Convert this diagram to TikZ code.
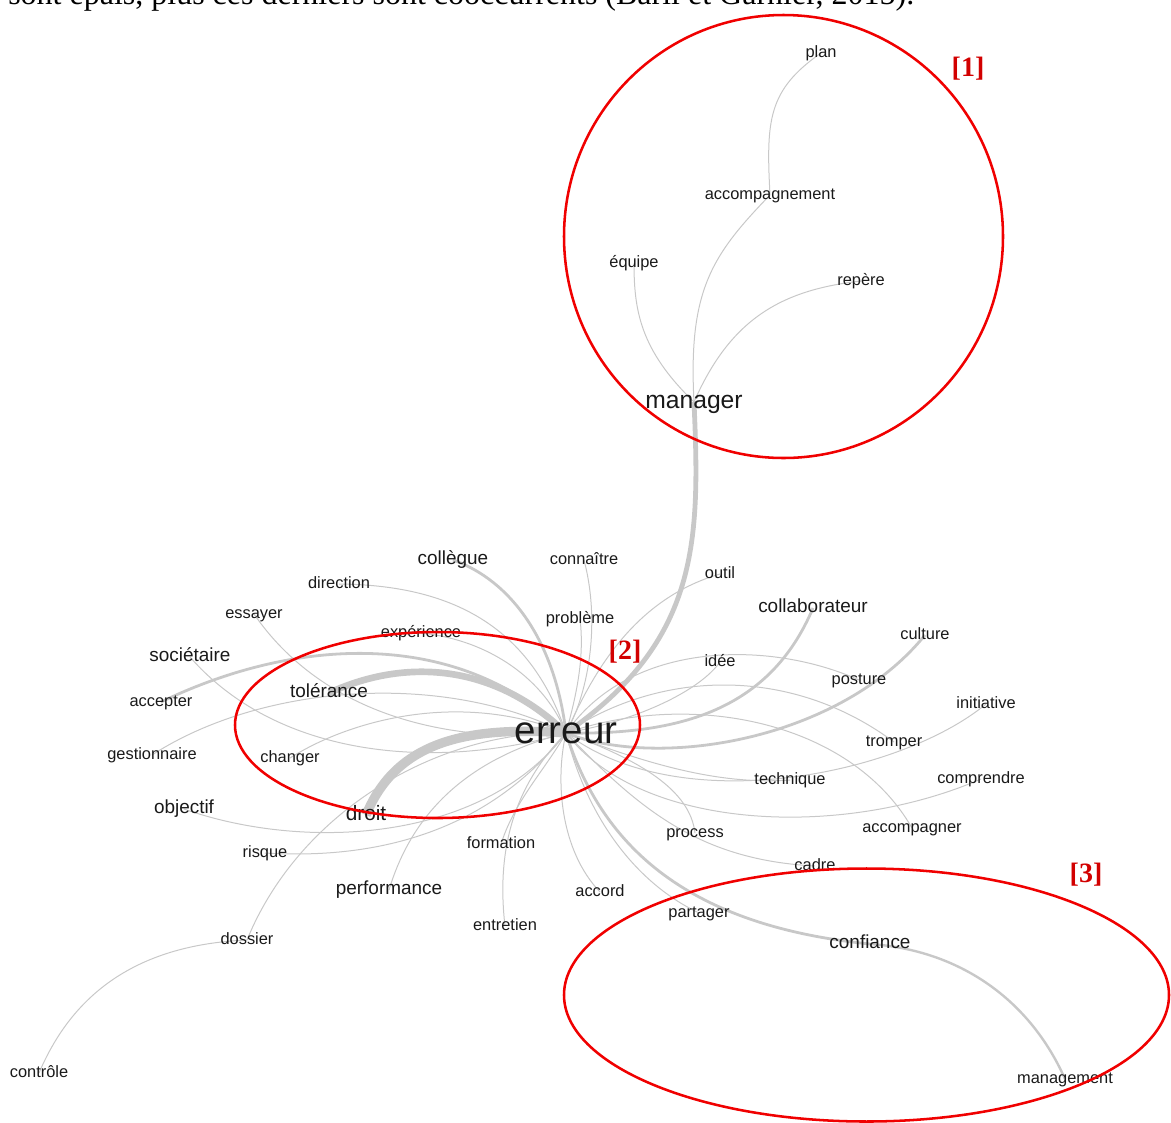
\documentclass[tikz,border=0pt]{standalone}
\usepackage{fontspec}
\setmainfont{Liberation Sans}
\newfontfamily\serifrm{Liberation Serif}
\usetikzlibrary{backgrounds}
\definecolor{lnkgray}{RGB}{200,200,200}
\definecolor{wordink}{RGB}{25,25,25}
\definecolor{zonered}{RGB}{240,0,0}
\definecolor{tagred}{RGB}{210,0,0}
\tikzset{
  wsm/.style={inner sep=0pt, text height=0.72em, text depth=0.2em, text=wordink, node font=\fontsize{12.3}{14}\selectfont},
  wmd/.style={wsm, node font=\fontsize{14.2}{16}\selectfont},
  lnk/.style={draw=lnkgray, line width=0.75pt},
  lnkm/.style={draw=lnkgray, line width=2.1pt},
  zone/.style={draw=zonered, line width=1.9pt},
  tag/.style={inner sep=0pt, text=tagred, node font=\serifrm\bfseries\fontsize{21}{24}\selectfont},
}
\begin{document}
\begin{tikzpicture}[x=0.75pt, y=-0.75pt]
  \useasboundingbox (0,0) rectangle (1171,1122);
  \clip (0,0) rectangle (1171,1122);

  % --- Text line above the graph (cut by the frame) ---
  \node[anchor=base west, inner sep=0pt, font=\serifrm\fontsize{24}{26}\selectfont] (topline) at (8,4.5)
    {sont épais, plus ces derniers sont cooccurrents (Barll et Garnier, 2015).};

  % --- Words ---
  \node[wsm, node font=\fontsize{28.9}{32}\selectfont] (erreur) at (566,733) {erreur};
  \node[wsm, node font=\fontsize{18.5}{21}\selectfont] (manager) at (694,402) {manager};
  \node[wsm, node font=\fontsize{15.6}{18}\selectfont] (droit) at (366,815) {droit};

  \foreach \nm/\x/\y/\txt in {collegue/453/560/collègue, collaborateur/813/608/collaborateur,
      societaire/190/657/sociétaire, tolerance/329/693/tolérance, objectif/184/809/objectif,
      performance/389/890/performance, confiance/870/944/confiance}
    \node[wmd] (\nm) at (\x,\y) {\txt};

  \foreach \nm/\x/\y/\txt in {plan/821/53/plan, accompagnement/770/195/accompagnement,
      equipe/634/263/équipe, repere/861/281/repère, connaitre/584/560/connaître,
      direction/339/584/direction, essayer/254/614/essayer, outil/720/574/outil,
      probleme/580/619/problème, experience/421/633/expérience, culture/925/635/culture,
      idee/720/662/idée, posture/859/680/posture, accepter/161/702/accepter,
      initiative/986/704/initiative, tromper/894/742/tromper, gestionnaire/152/755/gestionnaire,
      changer/290/758/changer, technique/790/780/technique, comprendre/981/779/comprendre,
      accompagner/912/828/accompagner, process/695/833/process, formation/501/844/formation,
      risque/265/853/risque, cadre/815/866/cadre, accord/600/892/accord,
      partager/699/913/partager, entretien/505/926/entretien, dossier/247/940/dossier,
      controle/39/1073/contrôle, management/1065/1079/management}
    \node[wsm] (\nm) at (\x,\y) {\txt};

  % --- Links (under the words) ---
  \begin{scope}[on background layer]
    % thin links to erreur
    \foreach \w/\ax/\ay/\bx/\by in {connaitre/590/690/600/620, probleme/575/700/585/660,
        outil/590/680/630/600, direction/530/625/450/585, experience/545/680/490/640,
        essayer/440/745/320/710, societaire/440/770/280/760, gestionnaire/440/670/260/685,
        changer/460/690/350/720, objectif/480/845/300/850, risque/490/830/380/860,
        dossier/440/730/300/810, performance/460/760/410/820, formation/545/770/515/800,
        entretien/520/780/495/840, accord/555/780/560/850, partager/585/810/630/880,
        process/640/760/690/790, cadre/640/810/700/860, technique/650/765/720/785,
        initiative/680/820/900/775, comprendre/640/830/840/840, accompagner/690/690/850/720,
        tromper/660/670/790/665, posture/630/640/770/640, idee/640/720/700/690}
      \draw[lnk] (erreur.center) .. controls (\ax,\ay) and (\bx,\by) .. (\w.center);

    % medium links to erreur
    \foreach \w/\ax/\ay/\bx/\by in {collegue/555/640/510/580, accepter/460/630/300/635,
        culture/660/770/840/740, collaborateur/680/735/770/710, confiance/600/840/680/925}
      \draw[lnkm] (erreur.center) .. controls (\ax,\ay) and (\bx,\by) .. (\w.center);

    % heavy links
    \draw[lnk, line width=3.6pt] (erreur.center) .. controls (700,640) and (700,540) .. (manager.center);
    \draw[lnk, line width=5pt] (erreur.center) .. controls (490,660) and (400,660) .. (tolerance.center);
    \draw[lnk, line width=7pt] (erreur.center) .. controls (460,725) and (395,745) .. (droit.center);

    % outer branches
    \draw[lnk] (manager.center) .. controls (688,290) and (712,255) .. (accompagnement.center);
    \draw[lnk] (accompagnement.center) .. controls (766,120) and (768,90) .. (plan.center);
    \draw[lnk] (manager.center) .. controls (640,350) and (634,310) .. (equipe.center);
    \draw[lnk] (manager.center) .. controls (730,320) and (780,290) .. (repere.center);
    \draw[lnk, line width=1.8pt] (confiance.center) .. controls (960,950) and (1030,1000) .. (management.center);
    \draw[lnk] (dossier.center) .. controls (130,945) and (70,1000) .. (controle.center);
  \end{scope}

  % --- Zones ---
  \draw[zone] (783.5,236.5) ellipse [x radius=219.5, y radius=221.5];
  \draw[zone] (437.5,725) ellipse [x radius=202.5, y radius=93];
  \draw[zone] (866.5,995) ellipse [x radius=302.5, y radius=126.5];

  \node[tag] (tag1) at (968,69) {[1]};
  \node[tag] (tag2) at (625,652) {[2]};
  \node[tag] (tag3) at (1086,875) {[3]};
\end{tikzpicture}
\end{document}
